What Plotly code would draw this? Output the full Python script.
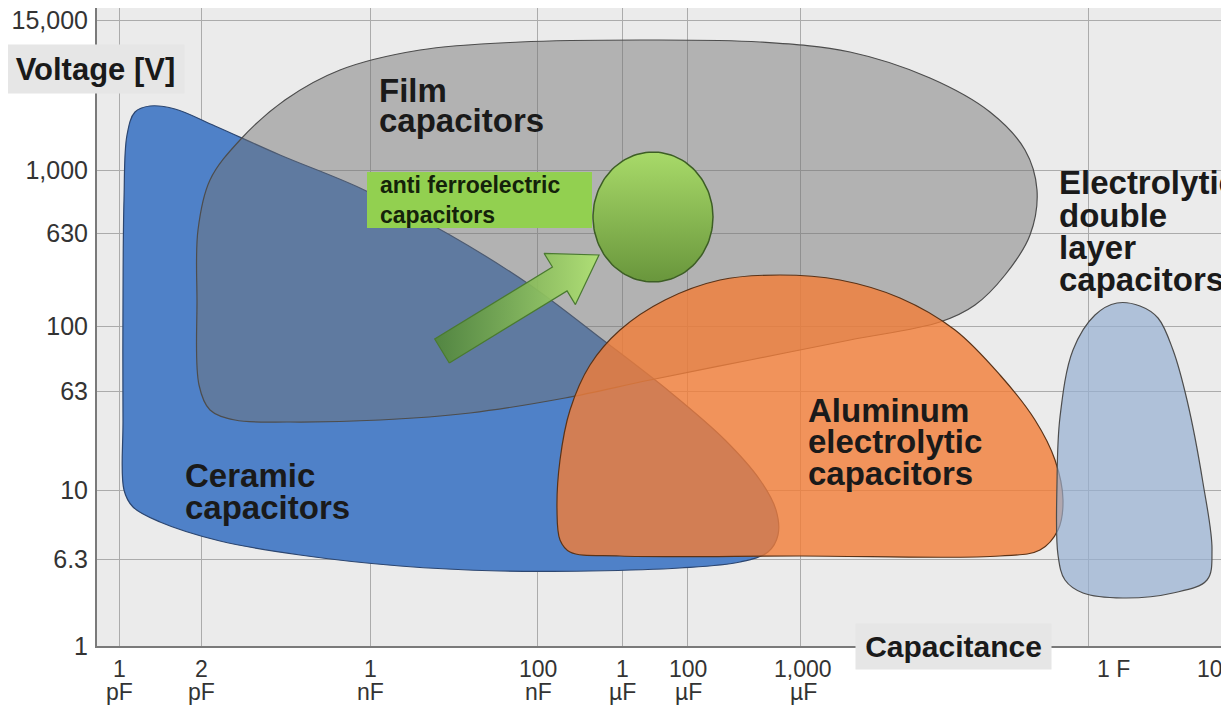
import numpy as np
import plotly.graph_objects as go

# ---------------- axis scales (non-uniform positions of the chart's ticks) ----------------
X_RANGE = [97, 1229]
Y_RANGE = [646, 8]          # reversed: larger position = lower on the chart

x_grid_pos = [119, 201, 370, 537, 622, 687, 800, 1088]
x_label_pos = [119, 201, 370, 538, 622, 688, 803, 1113, 1210]
x_label_line1 = ["1", "2", "1", "100", "1", "100", "1,000", "1 F", "10"]
x_label_line2 = ["pF", "pF", "nF", "nF", "µF", "µF", "µF", "", ""]

y_tick_pos = [20, 170, 233, 326, 391, 490, 559, 646]
y_tick_text = ["15,000", "1,000", "630", "100", "63", "10", "6.3", "1"]

# ---------------- region outlines (capacitance position, voltage position) ----------------
ceramic_x = [123, 124, 127, 135, 150, 175, 215, 280, 360, 450, 530, 603, 670, 725, 760, 776, 778,
             768, 740, 680, 590, 500, 400, 300, 220, 160, 133, 124, 123, 123]
ceramic_y = [300, 200, 135, 112, 106, 109, 126, 155, 188, 235, 285, 340, 392, 440, 480, 510, 535,
             552, 562, 568, 571, 571, 566, 555, 541, 522, 507, 490, 420, 300]

film_x = [197, 198, 210, 240, 285, 340, 420, 520, 640, 760, 850, 930, 990, 1025, 1037, 1030, 1005,
          975, 940, 850, 750, 650, 565, 470, 380, 290, 235, 210, 199, 197]
film_y = [300, 230, 180, 140, 100, 70, 50, 42, 40, 42, 52, 78, 112, 150, 190, 235, 275,
          305, 322, 340, 360, 380, 398, 413, 420, 422, 420, 410, 385, 300]

alu_x = [800, 1000, 1040, 1058, 1063, 1055, 1035, 1000, 955, 900, 840, 780, 720, 665, 620, 590,
         570, 560, 557, 560, 570, 620, 800]
alu_y = [556, 556, 550, 530, 500, 460, 420, 375, 330, 298, 280, 275, 280, 300, 330, 365,
         410, 460, 510, 540, 552, 556, 556]

edlc_x = [1057, 1060, 1073, 1095, 1117, 1140, 1158, 1173, 1187, 1203, 1212, 1207, 1173, 1123,
          1083, 1065, 1058, 1057]
edlc_y = [483, 417, 350, 315, 303, 306, 318, 350, 400, 483, 550, 580, 593, 598,
          593, 580, 555, 483]

# anti-ferroelectric ellipse (centre, radii) and arrow (tail, tip, widths)
afe_center = (653, 217)
afe_radii = (60, 65)
arrow_tail = (442, 351)
arrow_tip = (599, 255)
arrow_shaft_half = 14
arrow_head_half = 30
arrow_head_len = 46

FONT = "Liberation Sans, Arial, sans-serif"
TXT = "#1a1a1a"

# the page body adds an 8px offset; the figure size/margins compensate for it
PAGE_OFFSET = 8
VIEW_W, VIEW_H = 1229, 713
W, H = VIEW_W - PAGE_OFFSET, VIEW_H - 2 * PAGE_OFFSET


def xp(v):
    return (v - X_RANGE[0]) / (X_RANGE[1] - X_RANGE[0])


def yp(v):
    return (Y_RANGE[0] - v) / (Y_RANGE[0] - Y_RANGE[1])


fig = go.Figure()


def blob(xs, ys, fill, line):
    fig.add_trace(go.Scatter(
        x=xs, y=ys, mode="lines", fill="toself", fillcolor=fill,
        line=dict(shape="spline", smoothing=1.0, color=line, width=1.2),
        hoverinfo="skip", showlegend=False))


blob(ceramic_x, ceramic_y, "rgba(79,129,200,1)", "#2c4670")
blob(film_x, film_y, "rgba(115,115,115,0.47)", "#4d4d4d")

# arrow
tail = np.array(arrow_tail, float)
tip = np.array(arrow_tip, float)
u = (tip - tail) / np.linalg.norm(tip - tail)
n = np.array([-u[1], u[0]])
base = tip - arrow_head_len * u
pts = [tail + arrow_shaft_half * n, base + arrow_shaft_half * n, base + arrow_head_half * n, tip,
       base - arrow_head_half * n, base - arrow_shaft_half * n, tail - arrow_shaft_half * n,
       tail + arrow_shaft_half * n]
ax_ = [p[0] for p in pts]
ay_ = [p[1] for p in pts]
fig.add_trace(go.Scatter(
    x=ax_, y=ay_, mode="lines", fill="toself",
    fillgradient=dict(type="horizontal",
                      colorscale=[[0, "rgba(80,135,50,0.85)"], [1, "rgba(175,225,115,0.95)"]]),
    line=dict(color="#4a7a30", width=1.2), hoverinfo="skip", showlegend=False))

# ellipse
t = np.linspace(0, 2 * np.pi, 120)
ex = afe_center[0] + afe_radii[0] * np.cos(t)
ey = afe_center[1] + afe_radii[1] * np.sin(t)
fig.add_trace(go.Scatter(
    x=ex, y=ey, mode="lines", fill="toself",
    fillgradient=dict(type="vertical", start=afe_center[1] - afe_radii[1],
                      stop=afe_center[1] + afe_radii[1],
                      colorscale=[[0, "rgb(168,218,105)"], [1, "rgb(105,150,60)"]]),
    line=dict(color="#3d5e25", width=1.5), hoverinfo="skip", showlegend=False))

blob(alu_x, alu_y, "rgba(242,125,55,0.8)", "#5a3318")
blob(edlc_x, edlc_y, "rgba(150,175,210,0.7)", "#4d4d4d")

# green label box
fig.add_shape(type="rect", xref="x", yref="y", x0=367, x1=592, y0=172, y1=228,
              fillcolor="#92d050", line=dict(width=0), layer="above")

ann = []


def label(txt, x, y, size=33, bold=True, anchor="left", xref="x", yref="y", color=TXT):
    ann.append(dict(text=f"<b>{txt}</b>" if bold else txt, x=x, y=y, xref=xref, yref=yref,
                    xanchor=anchor, yanchor="middle", showarrow=False, align=anchor,
                    font=dict(family=FONT, size=size, color=color)))


label("anti ferroelectric<br>capacitors", 378, 200, size=23, color="#14220a")

for txt, yy in zip(["Film", "capacitors"], [90, 120]):
    label(txt, 377, yy)
for txt, yy in zip(["Electrolytic", "double", "layer", "capacitors"], [182, 215, 247, 279]):
    label(txt, 1057, yy)
for txt, yy in zip(["Aluminum", "electrolytic", "capacitors"], [410, 441, 473]):
    label(txt, 806, yy)
for txt, yy in zip(["Ceramic", "capacitors"], [475, 507]):
    label(txt, 183, yy)

# x tick labels
for xx, l1, l2 in zip(x_label_pos, x_label_line1, x_label_line2):
    label(l1, xx, yp(669), size=23, bold=False, anchor="center", yref="paper", color="#333333")
    if l2:
        label(l2, xx, yp(692), size=23, bold=False, anchor="center", yref="paper", color="#333333")

# axis title boxes
ann.append(dict(text="<b>Voltage [V]</b>", x=xp(95.5), y=yp(69), xref="paper", yref="paper",
                xanchor="center", yanchor="middle", showarrow=False, width=175, height=46,
                bgcolor="#e6e6e6", font=dict(family=FONT, size=31, color=TXT)))
ann.append(dict(text="<b>Capacitance</b>", x=xp(953), y=yp(646.5), xref="paper", yref="paper",
                xanchor="center", yanchor="middle", showarrow=False, width=193, height=43,
                bgcolor="#e6e6e6", font=dict(family=FONT, size=30, color=TXT)))

fig.update_layout(
    width=W, height=H,
    margin=dict(l=X_RANGE[0] - PAGE_OFFSET, r=W + PAGE_OFFSET - X_RANGE[1],
                t=Y_RANGE[1] - PAGE_OFFSET, b=H + PAGE_OFFSET - Y_RANGE[0], autoexpand=False),
    paper_bgcolor="white", plot_bgcolor="#ebebeb",
    font=dict(family=FONT),
    annotations=ann,
    xaxis=dict(range=X_RANGE, tickvals=x_grid_pos, showticklabels=False, showgrid=True,
               gridcolor="#ababab", gridwidth=1, zeroline=False, showline=True,
               linecolor="#7a7a7a", linewidth=2, ticks="", automargin=False),
    yaxis=dict(range=Y_RANGE, tickvals=y_tick_pos, ticktext=y_tick_text, showgrid=True,
               gridcolor="#ababab", gridwidth=1, zeroline=False, showline=True,
               linecolor="#7a7a7a", linewidth=2, ticks="", ticklabelstandoff=2,
               automargin=False, ticklabeloverflow="allow",
               tickfont=dict(family=FONT, size=25, color="#333333")),
)

fig.write_html("out.html")
